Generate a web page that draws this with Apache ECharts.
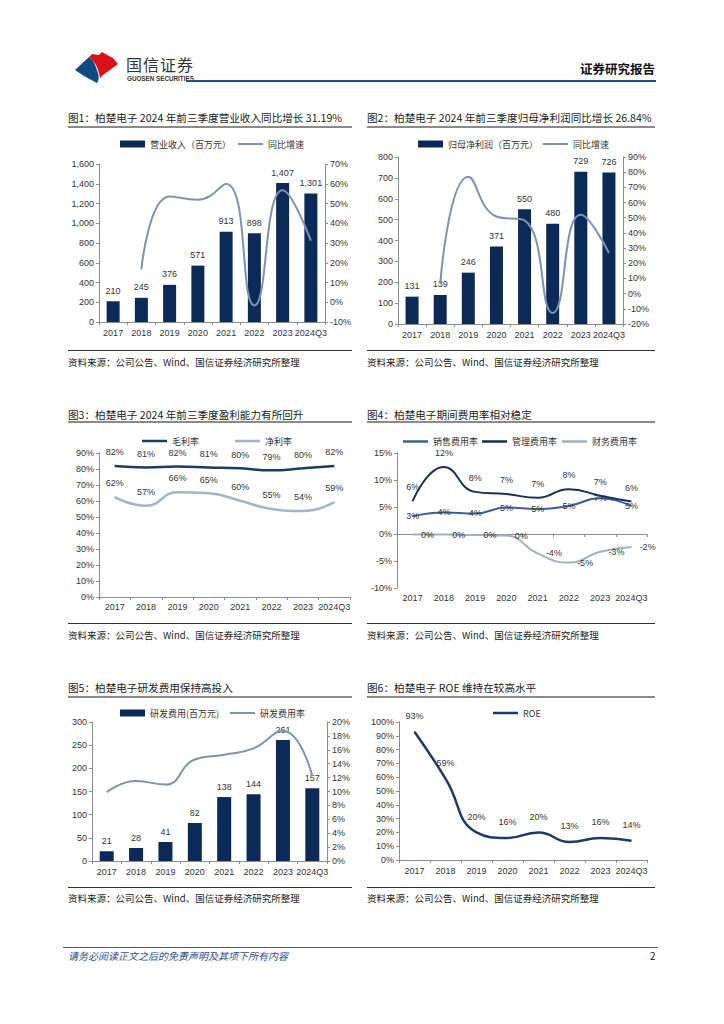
<!DOCTYPE html>
<html><head><meta charset="utf-8">
<script src="https://cdn.jsdelivr.net/npm/echarts@6/dist/echarts.min.js"></script>
<style>
body{margin:0;width:724px;height:1024px;background:#fff;position:relative;overflow:hidden;font-family:"Noto Sans CJK SC","Liberation Sans",sans-serif;}
.title{position:absolute;font-size:10.6px;color:#1a1a1a;white-space:nowrap;line-height:14px;}
.uline{position:absolute;height:1.5px;background:#8a8a8a;}
.src{position:absolute;font-size:9.5px;color:#222;white-space:nowrap;line-height:12px;}
.sline{position:absolute;height:1px;background:#333;}
.chart{position:absolute;}
</style></head><body>

<svg style="position:absolute;left:65px;top:45px" width="60" height="45" viewBox="65 45 60 45">
  <path d="M75,70 L89,57 C95,61 96,68 98,73 C99,77 99,80 97,83 L84,76 Z" fill="#0f4a85"/>
  <path d="M89,57 L92,54 L99,55 L102,52 L109,56 L113,58 L118,64 L110,70 L103,75 L100,78 C99,72 97,66 94,62 C92,60 91,58 89,57 Z" fill="#d8111b"/>
</svg>
<div style="position:absolute;left:126px;top:54px;font-size:16px;letter-spacing:1px;color:#333;line-height:20px;white-space:nowrap;">国信证券</div>
<div style="position:absolute;left:127px;top:75px;font-size:6.3px;color:#333;line-height:8px;white-space:nowrap;font-family:'Liberation Sans',Arial,sans-serif;font-weight:bold;">GUOSEN SECURITIES</div>
<div style="position:absolute;right:69px;top:61px;font-size:12.5px;font-weight:bold;color:#111;line-height:16px;white-space:nowrap;">证券研究报告</div>
<div style="position:absolute;left:186px;top:80px;width:470px;height:2px;background:#1f4f8b;"></div>

<div class="title" style="left:68px;top:111px;">图1：柏楚电子 2024 年前三季度营业收入同比增长 31.19%</div>
<div class="uline" style="left:68px;top:126px;width:284px;"></div>
<div class="title" style="left:367px;top:111px;">图2：柏楚电子 2024 年前三季度归母净利润同比增长 26.84%</div>
<div class="uline" style="left:367px;top:126px;width:288px;"></div>
<div class="sline" style="left:68px;top:350px;width:284px;"></div>
<div class="src" style="left:68px;top:356px;">资料来源：公司公告、Wind、国信证券经济研究所整理</div>
<div class="sline" style="left:367px;top:350px;width:288px;"></div>
<div class="src" style="left:367px;top:356px;">资料来源：公司公告、Wind、国信证券经济研究所整理</div>

<div class="title" style="left:68px;top:408px;">图3：柏楚电子 2024 年前三季度盈利能力有所回升</div>
<div class="uline" style="left:68px;top:421px;width:284px;"></div>
<div class="title" style="left:367px;top:408px;">图4：柏楚电子期间费用率相对稳定</div>
<div class="uline" style="left:367px;top:421px;width:288px;"></div>
<div class="sline" style="left:68px;top:623px;width:284px;"></div>
<div class="src" style="left:68px;top:629px;">资料来源：公司公告、Wind、国信证券经济研究所整理</div>
<div class="sline" style="left:367px;top:623px;width:288px;"></div>
<div class="src" style="left:367px;top:629px;">资料来源：公司公告、Wind、国信证券经济研究所整理</div>

<div class="title" style="left:68px;top:681px;">图5：柏楚电子研发费用保持高投入</div>
<div class="uline" style="left:68px;top:696px;width:284px;"></div>
<div class="title" style="left:367px;top:681px;">图6：柏楚电子 ROE 维持在较高水平</div>
<div class="uline" style="left:367px;top:696px;width:288px;"></div>
<div class="sline" style="left:68px;top:887px;width:284px;"></div>
<div class="src" style="left:68px;top:892px;">资料来源：公司公告、Wind、国信证券经济研究所整理</div>
<div class="sline" style="left:367px;top:887px;width:288px;"></div>
<div class="src" style="left:367px;top:892px;">资料来源：公司公告、Wind、国信证券经济研究所整理</div>

<div style="position:absolute;left:63px;top:947px;width:595px;height:1px;background:#2f5f92;"></div>
<div style="position:absolute;left:68px;top:950px;font-size:10px;font-style:italic;color:#2d4f8c;line-height:12px;white-space:nowrap;">请务必阅读正文之后的免责声明及其项下所有内容</div>
<div style="position:absolute;left:650px;top:950px;font-size:10px;color:#222;line-height:12px;">2</div>

<div id="c1" class="chart" style="left:60px;top:132px;width:300px;height:215px;"></div>
<div id="c2" class="chart" style="left:360px;top:132px;width:300px;height:215px;"></div>
<div id="c3" class="chart" style="left:60px;top:430px;width:300px;height:190px;"></div>
<div id="c4" class="chart" style="left:360px;top:430px;width:300px;height:190px;"></div>
<div id="c5" class="chart" style="left:60px;top:700px;width:300px;height:190px;"></div>
<div id="c6" class="chart" style="left:360px;top:700px;width:300px;height:190px;"></div>

<script>
// ---- data ----
const years = ['2017','2018','2019','2020','2021','2022','2023','2024Q3'];
const revenue = [210,245,376,571,913,898,1407,1301];
const revenueYoY = [null,16.7,53.5,51.9,59.9,-1.6,56.7,31.2];
const netProfit = [131,139,246,371,550,480,729,726];
const netProfitYoY = [null,6.1,77.0,50.8,48.2,-12.7,51.9,26.8];
const grossMargin = [81.9,81.0,81.6,81.0,80.4,79.2,80.4,81.8];
const netMargin = [62.4,57.0,65.5,64.8,60.2,55.0,53.7,59.3];
const sellingRate = [3.3,4.0,3.8,4.9,4.6,5.2,6.6,5.2];
const adminRate = [6.1,12.4,7.8,7.4,6.7,8.3,7.1,6.0];
const financeRate = [-0.1,-0.1,-0.2,-0.3,-3.6,-5.3,-3.3,-2.4];
const rdExpense = [21,28,41,82,138,144,261,157];
const rdRate = [9.9,11.5,11.0,14.6,15.3,16.2,18.7,12.2];
const roe = [93,59,20,16,20,13,16,14];

// ---- styles ----
const AX = '#8c8c8c', TXT = '#333';
const NUMF = '"Liberation Sans", Arial, sans-serif';
const CJK = '"Noto Sans CJK SC", sans-serif';
const BAR = '#0c2a57', LINE = '#7d93b3';

function legend(name, left, top, w, h, icon){
  return {data:[{name:name, icon:icon||'rect'}], left:left, top:top, itemWidth:w, itemHeight:h,
    selectedMode:false, padding:0, textStyle:{fontFamily:CJK, fontSize:9, color:TXT, lineHeight:12}};
}
function xCat(extra){
  return Object.assign({type:'category', data:years,
    axisLine:{lineStyle:{color:AX, width:1}},
    axisTick:{show:true, length:3, lineStyle:{color:AX}},
    axisLabel:{fontFamily:NUMF, fontSize:9, color:TXT, margin:6, interval:0}}, extra||{});
}
function yVal(min,max,interval,fmt,extra){
  return Object.assign({type:'value', min:min, max:max, interval:interval,
    axisLine:{show:true, lineStyle:{color:AX}},
    axisTick:{show:true, length:3, lineStyle:{color:AX}},
    splitLine:{show:false},
    axisLabel:{fontFamily:NUMF, fontSize:9, color:TXT, margin:5, formatter:fmt}}, extra||{});
}
const pct = v => v + '%';
const thous = v => v.toLocaleString('en-US');
const rpct = p => Math.round(p.value) + '%';
// invisible point markers so that line labels can be shown
const HIDDEN_SYM = {symbol:'circle', symbolSize:0.5, showSymbol:true};

function init(id){ return echarts.init(document.getElementById(id), null, {renderer:'svg'}); }

// Chart 1
init('c1').setOption({
  animation:false,
  legend:[legend('营业收入（百万元）',60,6,25,7), legend('同比增速',178,6,25,2)],
  grid:{left:39, right:35, top:32, bottom:25},
  xAxis:xCat(),
  yAxis:[yVal(0,1600,200,thous), yVal(-10,70,10,pct,{position:'right'})],
  series:[
    {name:'营业收入（百万元）', type:'bar', data:revenue, barWidth:13, color:BAR,
     label:{show:true, position:'top', distance:6, fontFamily:NUMF, fontSize:9, color:TXT, formatter:p=>thous(p.value)}},
    {name:'同比增速', type:'line', yAxisIndex:1, data:revenueYoY, smooth:true, symbol:'none', color:LINE, lineStyle:{width:2}}
  ]
});

// Chart 2
init('c2').setOption({
  animation:false,
  legend:[legend('归母净利润（百万元）',58,6,25,7), legend('同比增速',183,6,25,2)],
  grid:{left:38, right:37, top:25, bottom:23},
  xAxis:xCat(),
  yAxis:[yVal(0,800,100,v=>v), yVal(-20,90,10,pct,{position:'right'})],
  series:[
    {name:'归母净利润（百万元）', type:'bar', data:netProfit, barWidth:13, color:BAR,
     label:{show:true, position:'top', distance:6, fontFamily:NUMF, fontSize:9, color:TXT}},
    {name:'同比增速', type:'line', yAxisIndex:1, data:netProfitYoY, smooth:true, symbol:'none', color:LINE, lineStyle:{width:2}}
  ]
});

// Chart 3
const c3lab = {show:true, position:'top', distance:9, fontFamily:NUMF, fontSize:9, color:TXT, formatter:rpct};
init('c3').setOption({
  animation:false,
  legend:[legend('毛利率',82,5,25,2.5), legend('净利率',175,5,25,2.5)],
  grid:{left:39, right:10, top:23, bottom:23},
  xAxis:xCat({axisLabel:{fontFamily:NUMF, fontSize:9, color:TXT, margin:5, interval:0}}),
  yAxis:yVal(0,90,10,pct),
  series:[
    Object.assign({name:'毛利率', type:'line', data:grossMargin, smooth:true, color:'#1e3a66', lineStyle:{width:2.5}, label:c3lab}, HIDDEN_SYM),
    Object.assign({name:'净利率', type:'line', data:netMargin, smooth:true, color:'#a3b4ca', lineStyle:{width:2.5}, label:c3lab}, HIDDEN_SYM)
  ]
});

// Chart 4
const c4base = {show:true, fontFamily:NUMF, fontSize:9, color:TXT, formatter:rpct};
init('c4').setOption({
  animation:false,
  legend:[legend('销售费用率',43,5.5,25,2.5), legend('管理费用率',122,5.5,25,2.5), legend('财务费用率',202,5.5,25,2.5)],
  grid:{left:37, right:13, top:23, bottom:32},
  xAxis:xCat({axisLabel:{fontFamily:NUMF, fontSize:9, color:TXT, margin:5, interval:0}}),
  yAxis:yVal(-10,15,5,pct),
  series:[
    Object.assign({name:'销售费用率', type:'line', data:sellingRate, smooth:true, color:'#3d5f9e', lineStyle:{width:2},
     label:Object.assign({position:'inside'}, c4base)}, HIDDEN_SYM),
    Object.assign({name:'管理费用率', type:'line', data:adminRate, smooth:true, color:'#172f5a', lineStyle:{width:2},
     label:Object.assign({position:'top', distance:9}, c4base)}, HIDDEN_SYM),
    Object.assign({name:'财务费用率', type:'line', data:financeRate, smooth:true, color:'#9fb0c7', lineStyle:{width:2},
     label:Object.assign({position:'right', distance:8}, c4base)}, HIDDEN_SYM)
  ]
});

// Chart 5
init('c5').setOption({
  animation:false,
  legend:[legend('研发费用(百万元)',60,7,25,7), legend('研发费用率',170,7,25,2)],
  grid:{left:32, right:33, top:22, bottom:29},
  xAxis:xCat(),
  yAxis:[yVal(0,300,50,v=>v), yVal(0,20,2,pct,{position:'right'})],
  series:[
    {name:'研发费用(百万元)', type:'bar', data:rdExpense, barWidth:14, color:BAR,
     label:{show:true, position:'top', distance:6, fontFamily:NUMF, fontSize:9, color:TXT}},
    {name:'研发费用率', type:'line', yAxisIndex:1, data:rdRate, smooth:true, symbol:'none', color:LINE, lineStyle:{width:2}}
  ]
});

// Chart 6
init('c6').setOption({
  animation:false,
  legend:[legend('ROE',133,7,25,2.5)],
  grid:{left:39, right:13, top:22, bottom:30},
  xAxis:xCat({axisLabel:{fontFamily:NUMF, fontSize:9, color:TXT, margin:6, interval:0}}),
  yAxis:yVal(0,100,10,pct),
  series:[
    Object.assign({name:'ROE', type:'line', data:roe, smooth:true, color:'#1f3a6a', lineStyle:{width:2.5},
     label:{show:true, position:'top', distance:11, fontFamily:NUMF, fontSize:9, color:TXT, formatter:rpct}}, HIDDEN_SYM)
  ]
});
</script>
</body></html>
